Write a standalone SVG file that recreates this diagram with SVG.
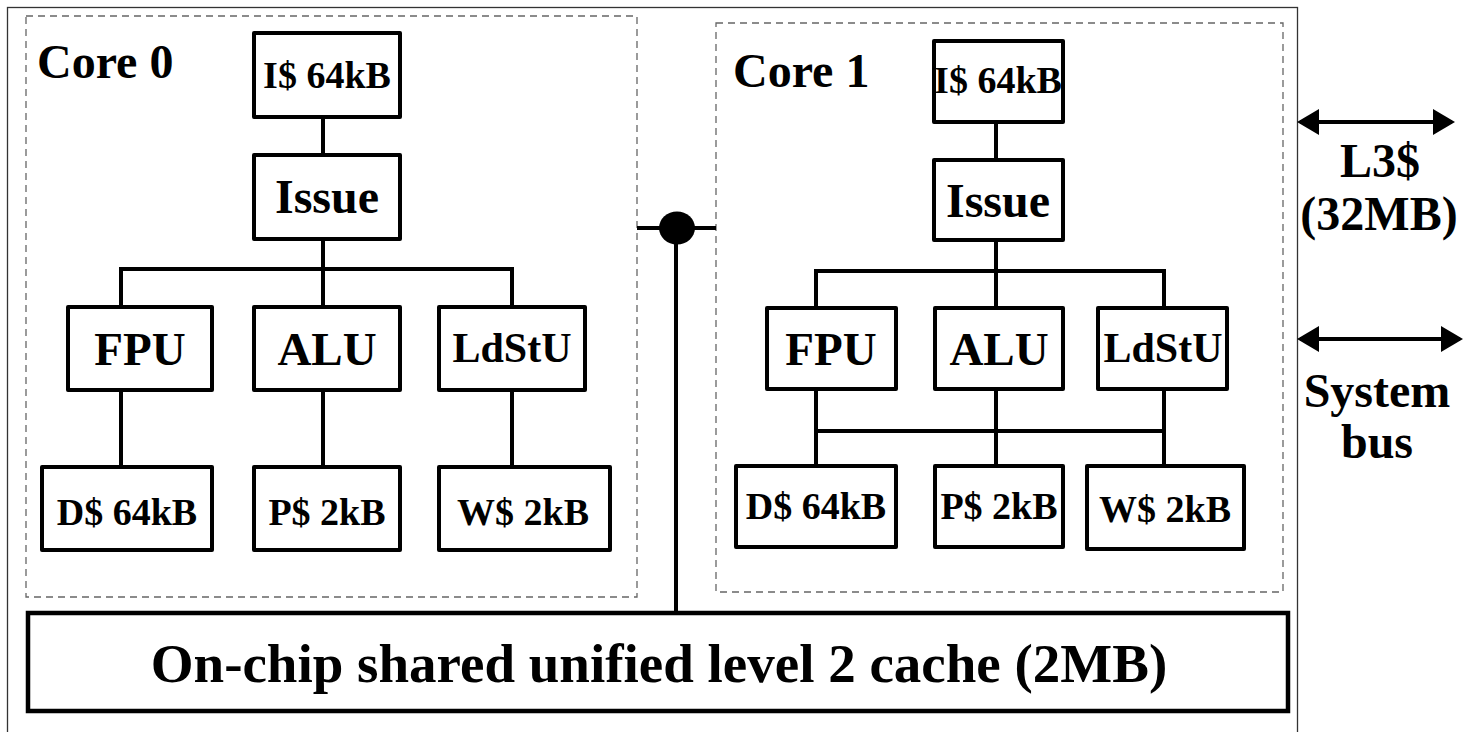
<svg xmlns="http://www.w3.org/2000/svg" width="1464" height="732" viewBox="0 0 1464 732">
  <style>
    .frame { fill: none; stroke: #333; stroke-width: 1.3; }
    .core { fill: none; stroke: #666; stroke-width: 1.3; stroke-dasharray: 7 5; }
    .box { fill: #fff; stroke: #000; stroke-width: 4; stroke-linejoin: round; }
    .l2 { fill: #fff; stroke: #000; stroke-width: 4.5; }
    .wire { fill: none; stroke: #000; stroke-width: 4; }
    .arrow { fill: none; stroke: #000; stroke-width: 4; }
    text { font-family: "Liberation Serif", "Times New Roman", serif; font-weight: bold; fill: #000; text-anchor: middle; }
    .title { font-size: 48px; text-anchor: start; }
    .unit { font-size: 47px; }
    .label { font-size: 48px; }
    .narrow { font-size: 42px; }
    .cache { font-size: 38px; }
    .big { font-size: 55px; }
  </style>
  <defs>
    <marker id="head" markerUnits="userSpaceOnUse" markerWidth="24" markerHeight="28" refX="19" refY="13" orient="auto-start-reverse">
      <path d="M0,0 L22,13 L0,26 Z" fill="#000"/>
    </marker>
  </defs>

  <!-- chip outline -->
  <rect class="frame" x="7.5" y="7.5" width="1290" height="740"/>

  <!-- core outlines -->
  <rect class="core" x="26" y="16" width="611" height="581"/>
  <rect class="core" x="716" y="23" width="567" height="569"/>

  <!-- connectors -->
  <g id="connectors">
    <!-- core 0 -->
    <path class="wire" d="M323,117 V155"/>
    <path class="wire" d="M323,239 V307"/>
    <path class="wire" d="M121,307 V269 H512 V307"/>
    <path class="wire" d="M121,390 V467"/>
    <path class="wire" d="M323,390 V467"/>
    <path class="wire" d="M512,390 V467"/>
    <!-- core 1 -->
    <path class="wire" d="M996,122 V160"/>
    <path class="wire" d="M996,240 V308"/>
    <path class="wire" d="M816,308 V271 H1164 V308"/>
    <path class="wire" d="M816,389 V466"/>
    <path class="wire" d="M996,389 V466"/>
    <path class="wire" d="M1164,389 V466"/>
    <path class="wire" d="M816,431 H1164"/>
    <!-- shared interconnect -->
    <path class="wire" d="M637,228 H716"/>
    <path class="wire" d="M676,228 V613"/>
    <ellipse cx="677" cy="228" rx="18" ry="16.5" fill="#000"/>
    <!-- off-chip links -->
    <line class="arrow" x1="1300" y1="122" x2="1452" y2="122" marker-start="url(#head)" marker-end="url(#head)"/>
    <line class="arrow" x1="1300" y1="339" x2="1460" y2="339" marker-start="url(#head)" marker-end="url(#head)"/>
  </g>

  <!-- core 0 -->
  <g id="core0">
    <text class="title" x="37" y="78">Core 0</text>
  </g>
  <g id="c0-icache"><rect class="box" x="254" y="33" width="146" height="84"/><text class="cache" x="327" y="88">I$ 64kB</text></g>
  <g id="c0-issue"><rect class="box" x="254" y="155" width="146" height="84"/><text class="label" x="327" y="213">Issue</text></g>
  <g id="c0-fpu"><rect class="box" x="68" y="307" width="144" height="83"/><text class="unit" x="140" y="365">FPU</text></g>
  <g id="c0-alu"><rect class="box" x="254" y="307" width="146" height="83"/><text class="unit" x="327" y="365">ALU</text></g>
  <g id="c0-ldstu"><rect class="box" x="439" y="307" width="146" height="83"/><text class="narrow" x="512" y="362">LdStU</text></g>
  <g id="c0-dcache"><rect class="box" x="42" y="467" width="170" height="83"/><text class="cache" x="127" y="525">D$ 64kB</text></g>
  <g id="c0-pcache"><rect class="box" x="254" y="467" width="146" height="83"/><text class="cache" x="327" y="525">P$ 2kB</text></g>
  <g id="c0-wcache"><rect class="box" x="439" y="467" width="171" height="83"/><text class="cache" x="523" y="525">W$ 2kB</text></g>

  <!-- core 1 -->
  <g id="core1">
    <text class="title" x="733" y="87">Core 1</text>
  </g>
  <g id="c1-icache"><rect class="box" x="934" y="41" width="129" height="81"/><text class="cache" x="998" y="93">I$ 64kB</text></g>
  <g id="c1-issue"><rect class="box" x="934" y="160" width="129" height="80"/><text class="label" x="998" y="217">Issue</text></g>
  <g id="c1-fpu"><rect class="box" x="767" y="308" width="129" height="81"/><text class="unit" x="831" y="365">FPU</text></g>
  <g id="c1-alu"><rect class="box" x="935" y="308" width="128" height="81"/><text class="unit" x="999" y="365">ALU</text></g>
  <g id="c1-ldstu"><rect class="box" x="1098" y="308" width="129" height="81"/><text class="narrow" x="1163" y="362">LdStU</text></g>
  <g id="c1-dcache"><rect class="box" x="736" y="466" width="160" height="81"/><text class="cache" x="816" y="519">D$ 64kB</text></g>
  <g id="c1-pcache"><rect class="box" x="935" y="466" width="128" height="81"/><text class="cache" x="999" y="519">P$ 2kB</text></g>
  <g id="c1-wcache"><rect class="box" x="1087" y="466" width="157" height="83"/><text class="cache" x="1165" y="522">W$ 2kB</text></g>

  <!-- shared L2 -->
  <g id="l2">
    <rect class="l2" x="28" y="613" width="1260" height="98"/>
    <text class="big" x="659" y="682">On-chip shared unified level 2 cache (2MB)</text>
  </g>

  <!-- off-chip labels -->
  <g id="l3">
    <text class="label" x="1380" y="177">L3$</text>
    <text class="label" x="1379" y="230">(32MB)</text>
  </g>
  <g id="sysbus">
    <text class="label" x="1377" y="407">System</text>
    <text class="label" x="1377" y="458">bus</text>
  </g>
</svg>
